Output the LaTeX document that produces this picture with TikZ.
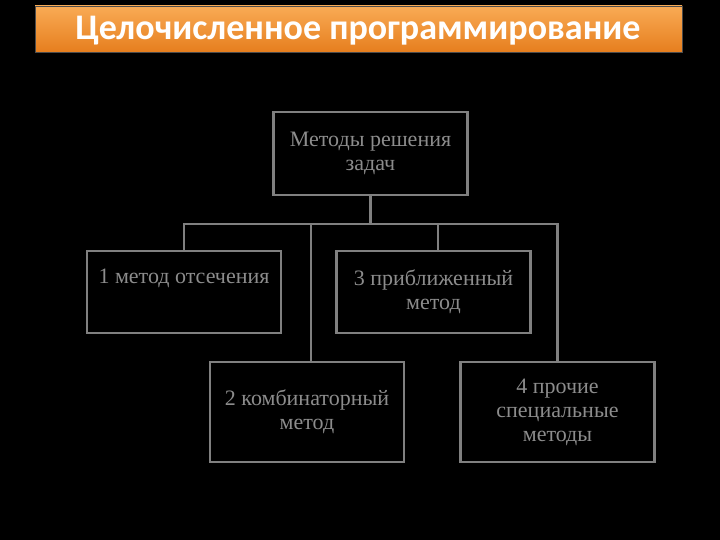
\documentclass[tikz,border=0pt]{standalone}
\usepackage{fontspec}
\setmainfont{Liberation Serif}
\newfontfamily\titlefont{Carlito}
\usetikzlibrary{positioning, calc}
\definecolor{boxgray}{HTML}{808080}
\definecolor{textgray}{HTML}{8C8C8C}
\definecolor{orangetop}{HTML}{F9AB55}
\definecolor{orangebot}{HTML}{E67E1E}
\tikzset{
  methodbox/.style={draw=boxgray, line width=2.8pt, fill=black, text=textgray,
    minimum width=194pt, align=center, font=\fontsize{22}{24}\selectfont,
    execute at begin node={\rule{0pt}{25pt}}},
  link/.style={draw=boxgray, line width=2.8pt}
}

\begin{document}
\begin{tikzpicture}[x=1pt, y=-1pt]
  % background
  \fill[black] (0,0) rectangle (720,540);
  \useasboundingbox (0,0) rectangle (720,540);

  % title bar
  \shade[top color=orangetop, bottom color=orangebot, draw=black!70] (35,6) rectangle (682,52);
  \node[text=white, font=\titlefont\bfseries\fontsize{36}{40}\selectfont] (title) at (358,31)
    {Целочисленное программирование};

  % root
  \node[methodbox, minimum height=83pt] (root) at (370.5,153.5) {Методы решения\\задач};

  % methods
  \node[methodbox, minimum height=82pt] (m1) at (184,292) {1 метод отсечения\\\strut};
  \node[methodbox, minimum height=82pt] (m3) at (433.5,292) {3 приближенный\\метод};
  \node[methodbox, minimum height=100pt] (m2) at (307,412) {2 комбинаторный\\метод};
  \node[methodbox, minimum height=100pt] (m4) at (557.5,412) {4 прочие\\специальные\\методы};

  % connectors
  \coordinate (bus) at (370.5,224);
  \draw[link] (root.south) -- (bus);
  \draw[link] (m1.north) |- (bus) -| (m4.north);
  \draw[link] ([xshift=4pt]m2.north) -- ([xshift=4pt]m2.north |- bus);
  \draw[link] ([xshift=4.5pt]m3.north) -- ([xshift=4.5pt]m3.north |- bus);
\end{tikzpicture}
\end{document}
